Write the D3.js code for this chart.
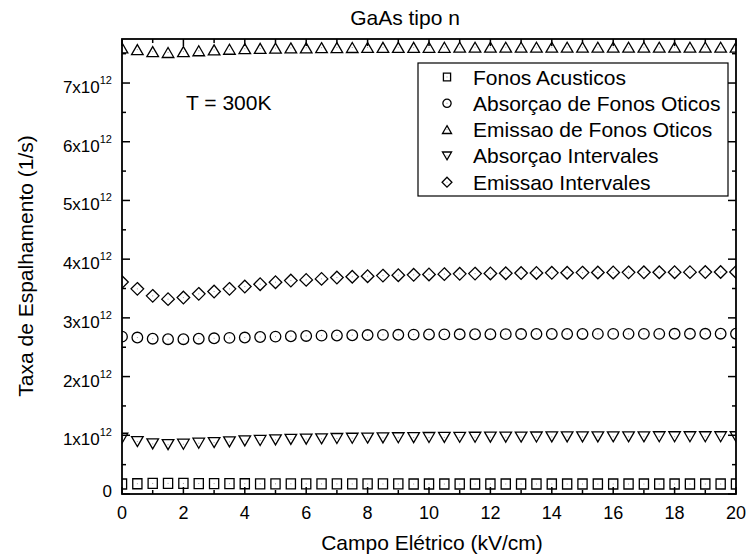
<!DOCTYPE html>
<html>
<head>
<meta charset="utf-8">
<script src="https://cdn.jsdelivr.net/npm/d3@7"></script>
<style>
  body { margin: 0; background: #fff; }
  text { font-family: "Liberation Sans", Arial, sans-serif; fill: #000; }
</style>
</head>
<body>
<div id="chart"></div>
<script>
// Campo eletrico (kV/cm)
const campo = [0, 0.5, 1, 1.5, 2, 2.5, 3, 3.5, 4, 4.5, 5, 5.5, 6, 6.5, 7, 7.5, 8, 8.5, 9, 9.5,
  10, 10.5, 11, 11.5, 12, 12.5, 13, 13.5, 14, 14.5, 15, 15.5, 16, 16.5, 17, 17.5, 18, 18.5, 19, 19.5, 20];

// Taxas de espalhamento, em unidades de 10^12 1/s
const fonosAcusticos = [0.170, 0.175, 0.180, 0.181, 0.180, 0.178, 0.177, 0.176, 0.175, 0.174, 0.173,
  0.173, 0.172, 0.172, 0.172, 0.171, 0.171, 0.171, 0.171, 0.170, 0.170, 0.170, 0.170, 0.170, 0.170,
  0.170, 0.170, 0.170, 0.170, 0.170, 0.170, 0.170, 0.170, 0.170, 0.170, 0.170, 0.170, 0.170, 0.170, 0.170, 0.170];
const absorcaoOticos = [2.680, 2.665, 2.645, 2.637, 2.637, 2.645, 2.652, 2.659, 2.665, 2.674, 2.681,
  2.687, 2.692, 2.697, 2.700, 2.704, 2.707, 2.710, 2.712, 2.715, 2.717, 2.719, 2.720, 2.721, 2.722,
  2.723, 2.724, 2.725, 2.725, 2.726, 2.726, 2.727, 2.727, 2.728, 2.728, 2.728, 2.729, 2.729, 2.729, 2.730, 2.730];
const emissaoOticos = [7.600, 7.570, 7.535, 7.520, 7.535, 7.550, 7.565, 7.575, 7.585, 7.590, 7.595,
  7.598, 7.600, 7.602, 7.604, 7.605, 7.606, 7.607, 7.608, 7.608, 7.609, 7.609, 7.610, 7.610, 7.610,
  7.610, 7.610, 7.610, 7.610, 7.610, 7.610, 7.610, 7.610, 7.610, 7.610, 7.610, 7.610, 7.610, 7.610, 7.610, 7.610];
const absorcaoIntervales = [0.950, 0.893, 0.853, 0.840, 0.848, 0.865, 0.876, 0.888, 0.905, 0.912, 0.922,
  0.930, 0.935, 0.940, 0.945, 0.950, 0.953, 0.956, 0.958, 0.960, 0.962, 0.964, 0.966, 0.967, 0.968,
  0.969, 0.970, 0.971, 0.972, 0.972, 0.973, 0.973, 0.974, 0.974, 0.974, 0.975, 0.975, 0.975, 0.975, 0.975, 0.975];
const emissaoIntervales = [3.610, 3.494, 3.375, 3.319, 3.346, 3.409, 3.448, 3.494, 3.533, 3.574, 3.608,
  3.635, 3.647, 3.664, 3.687, 3.700, 3.710, 3.720, 3.727, 3.733, 3.740, 3.745, 3.750, 3.754, 3.757,
  3.760, 3.763, 3.765, 3.767, 3.769, 3.771, 3.773, 3.774, 3.775, 3.776, 3.777, 3.778, 3.779, 3.780, 3.781, 3.782];

const seriesNames = ["Fonos Acusticos", "Absorçao de Fonos Oticos", "Emissao de Fonos Oticos",
  "Absorçao Intervales", "Emissao Intervales"];
const seriesShapes = ["square", "circle", "triangleUp", "triangleDown", "diamond"];
const seriesValues = [fonosAcusticos, absorcaoOticos, emissaoOticos, absorcaoIntervales, emissaoIntervales];

const yTicks = [0, 1, 2, 3, 4, 5, 6, 7];
const xTicks = [0, 2, 4, 6, 8, 10, 12, 14, 16, 18, 20];

const width = 748, height = 557;
const plotLeft = 122, plotRight = 736, plotTop = 39, plotBottom = 494;

const x = d3.scaleLinear().domain([0, 20]).range([plotLeft, plotRight]);
const y = d3.scaleLinear().domain([0, 7.75]).range([plotBottom, plotTop]);

const svg = d3.select("#chart").append("svg")
  .attr("width", width)
  .attr("height", height);

svg.append("clipPath").attr("id", "plotClip")
  .append("rect")
  .attr("x", plotLeft).attr("y", plotTop)
  .attr("width", plotRight - plotLeft).attr("height", plotBottom - plotTop);

// marker outlines, centred on (0,0), scaled by s
function shapePath(shape, s) {
  const p = d3.path();
  if (shape === "square") {
    p.rect(-4.6 * s, -5 * s, 9.2 * s, 10 * s);
  } else if (shape === "circle") {
    p.moveTo(5.3 * s, 0);
    p.arc(0, 0, 5.3 * s, 0, 2 * Math.PI);
    p.closePath();
  } else if (shape === "triangleUp") {
    p.moveTo(0, -5 * s); p.lineTo(5.8 * s, 5 * s); p.lineTo(-5.8 * s, 5 * s); p.closePath();
  } else if (shape === "triangleDown") {
    p.moveTo(0, 5 * s); p.lineTo(5.8 * s, -5 * s); p.lineTo(-5.8 * s, -5 * s); p.closePath();
  } else {
    p.moveTo(0, -6.3 * s); p.lineTo(6.3 * s, 0); p.lineTo(0, 6.3 * s); p.lineTo(-6.3 * s, 0); p.closePath();
  }
  return p.toString();
}

function drawMarker(g, shape, s) {
  g.append("path")
    .attr("d", shapePath(shape, s))
    .attr("fill", "none")
    .attr("stroke", "#000")
    .attr("stroke-width", 1.3);
  g.append("rect")
    .attr("x", -0.5).attr("y", -0.5)
    .attr("width", 1).attr("height", 1)
    .attr("fill", "#999");
}

// Data points
const plot = svg.append("g").attr("clip-path", "url(#plotClip)");
seriesValues.forEach((vals, i) => {
  plot.append("g").selectAll("g")
    .data(campo.map((c, j) => [c, vals[j]]))
    .enter()
    .append("g")
    .attr("transform", d => `translate(${x(d[0])},${y(d[1])})`)
    .each(function() { drawMarker(d3.select(this), seriesShapes[i], 1); });
});

// Axes: ticks inside on all four sides
const axisG = svg.append("g");
function ticksY(vals, len) {
  vals.forEach(v => {
    axisG.append("line").attr("x1", plotLeft).attr("x2", plotLeft + len)
      .attr("y1", y(v)).attr("y2", y(v)).attr("stroke", "#000").attr("stroke-width", 1.5);
    axisG.append("line").attr("x1", plotRight).attr("x2", plotRight - len)
      .attr("y1", y(v)).attr("y2", y(v)).attr("stroke", "#000").attr("stroke-width", 1.5);
  });
}
function ticksX(vals, len) {
  vals.forEach(v => {
    axisG.append("line").attr("y1", plotBottom).attr("y2", plotBottom - len)
      .attr("x1", x(v)).attr("x2", x(v)).attr("stroke", "#000").attr("stroke-width", 1.5);
    axisG.append("line").attr("y1", plotTop).attr("y2", plotTop + len)
      .attr("x1", x(v)).attr("x2", x(v)).attr("stroke", "#000").attr("stroke-width", 1.5);
  });
}
ticksY(y.ticks(16).filter(v => v % 1 !== 0), 4);
ticksY(yTicks, 8);
ticksX(x.ticks(20).filter(v => v % 2 !== 0), 4);
ticksX(xTicks, 7);

axisG.append("rect")
  .attr("x", plotLeft).attr("y", plotTop)
  .attr("width", plotRight - plotLeft).attr("height", plotBottom - plotTop)
  .attr("fill", "none")
  .attr("stroke", "#000")
  .attr("stroke-width", 1.8);

// Tick labels
svg.append("g").selectAll("text")
  .data(xTicks)
  .enter()
  .append("text")
  .attr("x", d => x(d))
  .attr("y", 519)
  .attr("text-anchor", "middle")
  .style("font-size", "18px")
  .text(d => d);

const yLab = svg.append("g").selectAll("text")
  .data(yTicks)
  .enter()
  .append("text")
  .attr("x", 112)
  .attr("y", d => d === 0 ? y(d) + 3 : y(d) + 10)
  .attr("text-anchor", "end")
  .style("font-size", "17px");
yLab.filter(d => d === 0).text("0");
yLab.filter(d => d !== 0).each(function(d) {
  const t = d3.select(this);
  t.append("tspan").text(d + "x10");
  t.append("tspan").attr("dy", -9).style("font-size", "11px").text("12");
});

// Titles
svg.append("text")
  .attr("x", 405).attr("y", 25)
  .attr("text-anchor", "middle")
  .style("font-size", "21px")
  .text("GaAs tipo n");

svg.append("text")
  .attr("x", 432).attr("y", 550)
  .attr("text-anchor", "middle")
  .style("font-size", "21px")
  .text("Campo Elétrico (kV/cm)");

svg.append("text")
  .attr("transform", "translate(33,266) rotate(-90)")
  .attr("text-anchor", "middle")
  .style("font-size", "21px")
  .text("Taxa de Espalhamento (1/s)");

svg.append("text")
  .attr("x", 186).attr("y", 110)
  .style("font-size", "21px")
  .text("T = 300K");

// Legend
const legend = svg.append("g");
legend.append("rect")
  .attr("x", 418).attr("y", 63)
  .attr("width", 310).attr("height", 133)
  .attr("fill", "#fff")
  .attr("stroke", "#000")
  .attr("stroke-width", 1.2);

const items = legend.selectAll("g.item")
  .data(seriesNames)
  .enter()
  .append("g")
  .attr("class", "item")
  .attr("transform", (d, i) => `translate(0,${77 + i * 26.3})`);

items.append("g")
  .attr("transform", "translate(447,0)")
  .each(function(d, i) { drawMarker(d3.select(this), seriesShapes[i], 0.78); });

items.append("text")
  .attr("x", 473)
  .attr("y", 7.5)
  .style("font-size", "21px")
  .text(d => d);
</script>
</body>
</html>
